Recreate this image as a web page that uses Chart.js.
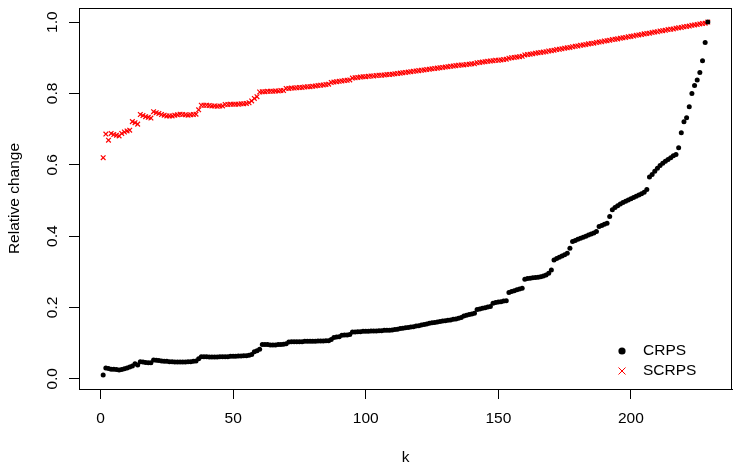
<!DOCTYPE html>
<html>
<head>
<meta charset="utf-8">
<script src="https://cdn.jsdelivr.net/npm/chart.js@4.4.1/dist/chart.umd.min.js"></script>
<style>
  html, body { margin: 0; padding: 0; background: #fff; }
  #chart { display: block; }
</style>
</head>
<body>
<canvas id="chart" width="744" height="472"></canvas>
<script>
// values, k = 1..229
const crps = [
  0.011,0.030,0.029,0.027,0.027,0.026,0.025,0.026,0.028,0.030,
  0.033,0.036,0.042,0.039,0.048,0.047,0.046,0.045,0.045,0.053,
  0.052,0.051,0.050,0.049,0.049,0.048,0.048,0.047,0.047,0.047,
  0.047,0.047,0.048,0.048,0.049,0.050,0.056,0.062,0.062,0.062,
  0.061,0.061,0.061,0.061,0.062,0.062,0.062,0.062,0.063,0.063,
  0.063,0.064,0.064,0.065,0.065,0.066,0.068,0.076,0.079,0.083,
  0.096,0.096,0.096,0.095,0.095,0.095,0.096,0.096,0.097,0.098,
  0.103,0.104,0.104,0.104,0.104,0.104,0.105,0.105,0.105,0.105,
  0.105,0.106,0.106,0.106,0.107,0.107,0.110,0.116,0.117,0.118,
  0.122,0.123,0.123,0.124,0.131,0.131,0.132,0.132,0.133,0.133,
  0.133,0.134,0.134,0.134,0.135,0.135,0.136,0.136,0.136,0.137,
  0.138,0.139,0.141,0.142,0.143,0.144,0.145,0.146,0.148,0.149,
  0.151,0.152,0.154,0.156,0.157,0.158,0.159,0.161,0.162,0.163,
  0.164,0.165,0.167,0.168,0.170,0.172,0.176,0.178,0.180,0.182,
  0.184,0.194,0.196,0.198,0.199,0.201,0.203,0.212,0.214,0.215,
  0.216,0.218,0.219,0.242,0.245,0.247,0.250,0.252,0.254,0.279,
  0.281,0.282,0.283,0.284,0.285,0.286,0.288,0.291,0.296,0.305,
  0.333,0.337,0.341,0.344,0.348,0.352,0.366,0.385,0.388,0.391,
  0.394,0.397,0.400,0.403,0.406,0.409,0.413,0.427,0.430,0.433,
  0.436,0.455,0.474,0.480,0.485,0.490,0.494,0.498,0.501,0.505,
  0.508,0.512,0.515,0.519,0.523,0.531,0.566,0.573,0.582,0.590,
  0.598,0.604,0.610,0.615,0.620,0.625,0.629,0.648,0.690,0.721,
  0.732,0.763,0.800,0.822,0.838,0.859,0.892,0.943,1.000
];
const scrps = [
  0.620,0.686,0.669,0.688,0.685,0.683,0.681,0.688,0.692,0.695,
  0.697,0.721,0.718,0.714,0.741,0.738,0.735,0.733,0.731,0.749,
  0.746,0.744,0.741,0.739,0.737,0.737,0.737,0.739,0.740,0.742,
  0.741,0.740,0.739,0.740,0.741,0.742,0.754,0.767,0.767,0.767,
  0.766,0.765,0.765,0.764,0.765,0.765,0.769,0.769,0.770,0.770,
  0.770,0.770,0.771,0.771,0.772,0.774,0.779,0.786,0.791,0.804,
  0.805,0.805,0.806,0.806,0.806,0.807,0.807,0.808,0.808,0.814,
  0.814,0.815,0.815,0.816,0.817,0.817,0.818,0.819,0.819,0.820,
  0.821,0.822,0.823,0.824,0.825,0.826,0.831,0.832,0.833,0.834,
  0.835,0.836,0.837,0.838,0.843,0.844,0.845,0.846,0.847,0.847,
  0.848,0.849,0.849,0.850,0.851,0.851,0.852,0.853,0.853,0.854,
  0.855,0.856,0.857,0.858,0.859,0.860,0.861,0.862,0.863,0.864,
  0.865,0.866,0.867,0.868,0.869,0.870,0.871,0.872,0.873,0.874,
  0.875,0.876,0.877,0.878,0.879,0.880,0.880,0.881,0.882,0.883,
  0.883,0.886,0.887,0.888,0.889,0.890,0.891,0.892,0.893,0.893,
  0.894,0.895,0.896,0.899,0.900,0.901,0.902,0.903,0.904,0.908,
  0.909,0.910,0.911,0.913,0.914,0.915,0.916,0.917,0.919,0.920,
  0.921,0.923,0.924,0.925,0.927,0.928,0.929,0.931,0.932,0.933,
  0.935,0.936,0.937,0.939,0.940,0.941,0.943,0.944,0.945,0.947,
  0.948,0.949,0.951,0.952,0.953,0.955,0.956,0.957,0.959,0.960,
  0.961,0.963,0.964,0.965,0.967,0.968,0.969,0.971,0.972,0.973,
  0.975,0.976,0.977,0.979,0.980,0.981,0.983,0.984,0.985,0.987,
  0.988,0.989,0.991,0.992,0.993,0.995,0.996,0.997,1.000
];
const seriesNames = ['CRPS', 'SCRPS'];
const xTicks = [0, 50, 100, 150, 200];
const yTicks = [0, 0.2, 0.4, 0.6, 0.8, 1.0];

Chart.defaults.font.family = "'Liberation Sans', Arial, sans-serif";
Chart.defaults.font.size = 15.5;
Chart.defaults.color = '#000';

function toPoints(values) {
  return values.map(function(v, i) { return {x: i + 1, y: v}; });
}

// R style axis range: data range padded by 4% each side
const n = crps.length;
const allY = crps.concat(scrps);
const yLo = Math.min.apply(null, allY), yHi = Math.max.apply(null, allY);
const xPad = (n - 1) * 0.04, yPad = (yHi - yLo) * 0.04;

// box round the plot region
const boxPlugin = {
  id: 'box',
  afterDraw(chart) {
    const a = chart.chartArea, ctx = chart.ctx;
    ctx.save();
    ctx.strokeStyle = '#000';
    ctx.lineWidth = 1;
    ctx.strokeRect(Math.round(a.left) + 0.5, Math.round(a.top) + 0.5,
      Math.round(a.right - a.left) - 1, Math.round(a.bottom - a.top));
    ctx.restore();
  }
};

// legend in the bottom right corner, no frame
const legendPlugin = {
  id: 'rLegend',
  afterDraw(chart) {
    const a = chart.chartArea, ctx = chart.ctx;
    const mx = a.right - 110, tx = a.right - 89;
    const rows = [a.bottom - 38, a.bottom - 18];
    ctx.save();
    ctx.font = "15.5px 'Liberation Sans', Arial, sans-serif";
    ctx.textBaseline = 'middle';
    ctx.textAlign = 'left';
    chart.data.datasets.forEach(function(ds, i) {
      const y = rows[i];
      if (ds.pointStyle === 'circle') {
        ctx.fillStyle = ds.backgroundColor;
        ctx.beginPath();
        ctx.arc(mx, y, 3.6, 0, Math.PI * 2);
        ctx.fill();
      } else {
        ctx.strokeStyle = ds.borderColor;
        ctx.lineWidth = 1;
        ctx.beginPath();
        ctx.moveTo(mx - 3.5, y - 3.5); ctx.lineTo(mx + 3.5, y + 3.5);
        ctx.moveTo(mx - 3.5, y + 3.5); ctx.lineTo(mx + 3.5, y - 3.5);
        ctx.stroke();
      }
      ctx.fillStyle = '#000';
      ctx.fillText(ds.label, tx, y);
    });
    ctx.restore();
  }
};

function noOverflow(scale) {
  scale.paddingTop = 0;
  scale.paddingBottom = 0;
  scale.paddingLeft = 0;
  scale.paddingRight = 0;
}

const setup = {
  type: 'scatter',
  data: {
    datasets: [
      {
        label: seriesNames[0],
        data: toPoints(crps),
        pointStyle: 'circle',
        pointRadius: 2.5,
        borderWidth: 0,
        backgroundColor: '#000',
        borderColor: '#000'
      },
      {
        label: seriesNames[1],
        data: toPoints(scrps),
        pointStyle: 'crossRot',
        pointRadius: 3.3,
        borderWidth: 1.2,
        backgroundColor: '#ff0000',
        borderColor: '#ff0000'
      }
    ]
  },
  options: {
    responsive: false,
    devicePixelRatio: 1,
    animation: false,
    events: [],
    layout: { padding: { top: 8, right: 12, left: 0, bottom: 0 } },
    plugins: {
      legend: { display: false },
      tooltip: { enabled: false }
    },
    scales: {
      x: {
        type: 'linear',
        min: 1 - xPad,
        max: n + xPad,
        afterBuildTicks: function(scale) {
          scale.ticks = xTicks.map(function(v) { return {value: v}; });
        },
        afterFit: function(scale) { scale.height = 83; noOverflow(scale); },
        ticks: { padding: 10, maxRotation: 0, callback: function(v) { return String(v); } },
        grid: { drawOnChartArea: false, tickLength: 10, color: '#000' },
        border: { display: true, color: '#000' },
        title: { display: true, text: 'k', padding: { top: 0, bottom: 5 } }
      },
      y: {
        type: 'linear',
        min: yLo - yPad,
        max: yHi + yPad,
        afterBuildTicks: function(scale) {
          scale.ticks = yTicks.map(function(v) { return {value: v}; });
        },
        afterFit: function(scale) { scale.width = 79; noOverflow(scale); },
        ticks: {
          padding: 6,
          minRotation: 90,
          maxRotation: 90,
          crossAlign: 'center',
          callback: function(v) { return v.toFixed(1); }
        },
        grid: { drawOnChartArea: false, tickLength: 10, color: '#000' },
        border: { display: true, color: '#000' },
        title: { display: true, text: 'Relative change', padding: { top: 5, bottom: 0 } }
      }
    }
  },
  plugins: [boxPlugin, legendPlugin]
};

new Chart(document.getElementById('chart'), setup);
</script>
</body>
</html>
